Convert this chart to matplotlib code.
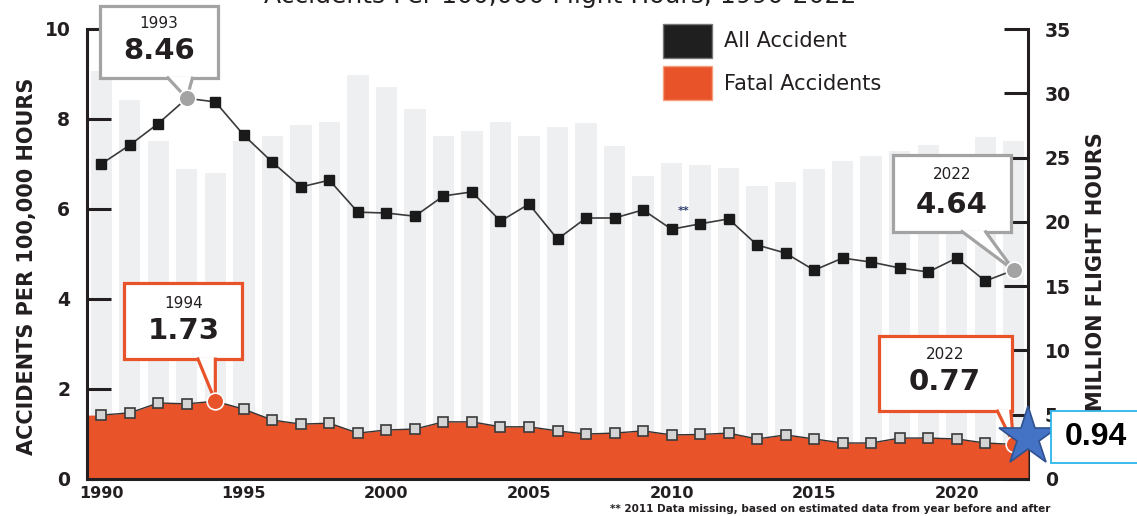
import matplotlib
matplotlib.use('Agg')
import matplotlib.pyplot as plt
from matplotlib.patches import Rectangle, Polygon, Patch
from matplotlib.transforms import Affine2D, ScaledTranslation

years = list(range(1990, 2023))
all_rate = [7.00, 7.42, 7.90, 8.46, 8.38, 7.64, 7.04, 6.49, 6.64, 5.93, 5.91,
            5.84, 6.29, 6.38, 5.73, 6.11, 5.33, 5.80, 5.80, 5.98, 5.55,
            5.67, 5.78, 5.20, 5.02, 4.64, 4.91, 4.82, 4.69, 4.60, 4.91, 4.40, 4.64]
fatal_rate = [1.42, 1.47, 1.69, 1.67, 1.73, 1.55, 1.31, 1.22, 1.24, 1.02, 1.09,
              1.11, 1.27, 1.27, 1.16, 1.16, 1.07, 1.00, 1.02, 1.07, 0.98,
              0.99, 1.02, 0.89, 0.98, 0.89, 0.80, 0.80, 0.91, 0.91, 0.89, 0.80, 0.77]
flight_hours = [31.7, 29.5, 26.3, 24.1, 23.8, 26.3, 26.7, 27.5, 27.8, 31.4, 30.5,
                28.8, 26.7, 27.1, 27.8, 26.7, 27.4, 27.7, 25.9, 23.6, 24.6,
                24.4, 24.2, 22.8, 23.1, 24.1, 24.7, 25.1, 25.5, 26.0, 24.5, 26.6, 26.3]
star_value = 0.94
missing_year = 2011

ORANGE = '#e8532a'
GRAY = '#a3a3a3'
INK = '#231f20'
BAR = '#eeeff1'

fig = plt.figure(figsize=(11.37, 5.16), dpi=100)
ax = fig.add_axes([87 / 1137, 1 - 479 / 516, (1028 - 87) / 1137, 450 / 516])
ax2 = ax.twinx()
ax.set_zorder(ax2.get_zorder() + 1)
ax.patch.set_visible(False)

# flight hours bars (right axis)
ax2.bar(years, flight_hours, width=0.75, color=BAR, zorder=1)
ax2.set_ylim(0, 35)
ax2.set_yticks(range(0, 36, 5))

# fatal area + line
xs = [years[0] - 0.5] + years + [years[-1] + 0.5]
ys = [fatal_rate[0]] + fatal_rate + [fatal_rate[-1]]
ax.fill_between(xs, 0, ys, color=ORANGE, lw=0, zorder=2)
ax.plot(years, fatal_rate, color='#333333', lw=1.0, marker='s', ms=7,
        mfc='#d4d4d4', mec='#3a3a3a', mew=1.2, zorder=4)

# all accident line
ax.plot(years, all_rate, color='#3a3a3a', lw=1.2, marker='s', ms=7,
        mfc='#1a1a1a', mec='#1a1a1a', zorder=4)

ax.set_xlim(years[0] - 0.5, years[-1] + 0.5)
ax.set_ylim(0, 10)
ax.set_yticks(range(0, 11, 2))
ax.set_xticks(range(1990, 2021, 5))

for s in ['top', 'right']:
    ax.spines[s].set_visible(False)
for s in ['top', 'left', 'bottom']:
    ax2.spines[s].set_visible(False)
ax.spines['left'].set_linewidth(2.2)
ax.spines['bottom'].set_linewidth(2.2)
ax2.spines['right'].set_linewidth(2.2)
for sp in [ax.spines['left'], ax.spines['bottom'], ax2.spines['right']]:
    sp.set_color(INK)

ax.tick_params(axis='y', direction='in', length=17, width=2.2, color=INK, pad=12,
               labelsize=13.5, labelcolor=INK)
ax.tick_params(axis='x', length=0, pad=5, labelsize=11.5, labelcolor=INK)
ax2.tick_params(axis='y', direction='in', length=17, width=2.2, color=INK, pad=12,
                labelsize=13.5, labelcolor=INK)
for lab in ax.get_xticklabels() + ax.get_yticklabels() + ax2.get_yticklabels():
    lab.set_fontweight('semibold')

fig.text(27 / 1137, 1 - 266 / 516, 'ACCIDENTS PER 100,000 HOURS', rotation=90,
         ha='center', va='center', fontsize=15, fontweight='semibold', color=INK)
fig.text(1096 / 1137, 1 - 272 / 516, 'MILLION FLIGHT HOURS', rotation=90,
         ha='center', va='center', fontsize=15, fontweight='semibold', color=INK)

# title, cut off at the top edge as in the source image
fig.text(560 / 1137, 1 - 3 / 516, 'Accidents Per 100,000 Flight Hours, 1990-2022',
         ha='center', va='baseline', fontsize=18, color=INK)

# footnote
fig.text(610 / 1137, 1 - 509 / 516,
         '** 2011 Data missing, based on estimated data from year before and after',
         ha='left', va='center', fontsize=7.5, fontweight='semibold', color=INK)

i_miss = years.index(missing_year)
ax.annotate('**', (missing_year, all_rate[i_miss]), xytext=(-12, 6),
            textcoords='offset points', ha='center', va='bottom', fontsize=8,
            color='#2a3b6b', fontweight='bold', zorder=6)

# legend
leg = ax.legend(handles=[Patch(fc='#1f1f1f', ec='#777777', label='All Accident'),
                         Patch(fc=ORANGE, ec='#f3a080', label='Fatal Accidents')],
                loc='upper left', bbox_to_anchor=(663 / 1137, 1 - 24 / 516),
                bbox_transform=fig.transFigure, frameon=False, fontsize=15,
                handlelength=2.35, handleheight=2.1, labelspacing=0.42,
                handletextpad=0.6, borderpad=0, borderaxespad=0)
for t in leg.get_texts():
    t.set_color(INK)


def px_trans(x, y):
    # offsets in pixels around the data point (x, y)
    return Affine2D().scale(1 / 100) + fig.dpi_scale_trans + ScaledTranslation(x, y, ax.transData)


def callout(x, y, label, value, color, box, tail, dx, year_dy, val_dy):
    tr = px_trans(x, y)
    x0, x1, y0, y1 = box
    ax.add_patch(Rectangle((x0, y0), x1 - x0, y1 - y0, transform=tr, fc='white',
                           ec=color, lw=2.3, clip_on=False, zorder=8))
    (ax_, bx_) = tail
    ax.add_patch(Polygon([(ax_, y0 + 1.6), (0, 0), (bx_, y0 + 1.6)], closed=False,
                         transform=tr, fc='white', ec=color, lw=2.3,
                         clip_on=False, zorder=9, joinstyle='miter'))
    ax.plot([0], [0], transform=tr, marker='o', ms=12, mfc=color, mec='white',
            mew=1.2, clip_on=False, zorder=10)
    ax.text(dx, year_dy, label, transform=tr, ha='center', va='center',
            fontsize=11, color=INK, zorder=11)
    ax.text(dx, val_dy, value, transform=tr, ha='center', va='center',
            fontsize=21, fontweight='bold', color=INK, zorder=11)


i93 = years.index(1993)
callout(1993, all_rate[i93], '1993', '%.2f' % all_rate[i93], GRAY,
        (-87, 31, 20, 92), (-20, 6), -28, 75, 47)
i94 = years.index(1994)
callout(1994, fatal_rate[i94], '1994', '%.2f' % fatal_rate[i94], ORANGE,
        (-91, 27, 42, 118), (-18, 0), -32, 98, 70)
callout(2022, all_rate[-1], '2022', '%.2f' % all_rate[-1], GRAY,
        (-121, -3, 38, 115), (-53, -29), -62, 96, 65)
callout(2022, fatal_rate[-1], '2022', '%.2f' % fatal_rate[-1], ORANGE,
        (-135, -2, 33, 108), (-17, -3), -69, 90, 62)

# star marker with its value box
xr = years[-1] + 0.5
ax.plot([xr], [star_value], marker='*', ms=44, mfc='#4472c4', mec='#2f528f',
        mew=1.2, clip_on=False, zorder=12)
trs = px_trans(xr, star_value)
ax.add_patch(Rectangle((23, -26), 115, 52, transform=trs, fc='white',
                       ec='#2ab5ea', lw=1.3, clip_on=False, zorder=12))
ax.text(68, 0, '%.2f' % star_value, transform=trs, ha='center', va='center',
        fontsize=23, fontweight='bold', family='Liberation Sans', color='black',
        zorder=13)

fig.savefig('out.png', dpi=100)
